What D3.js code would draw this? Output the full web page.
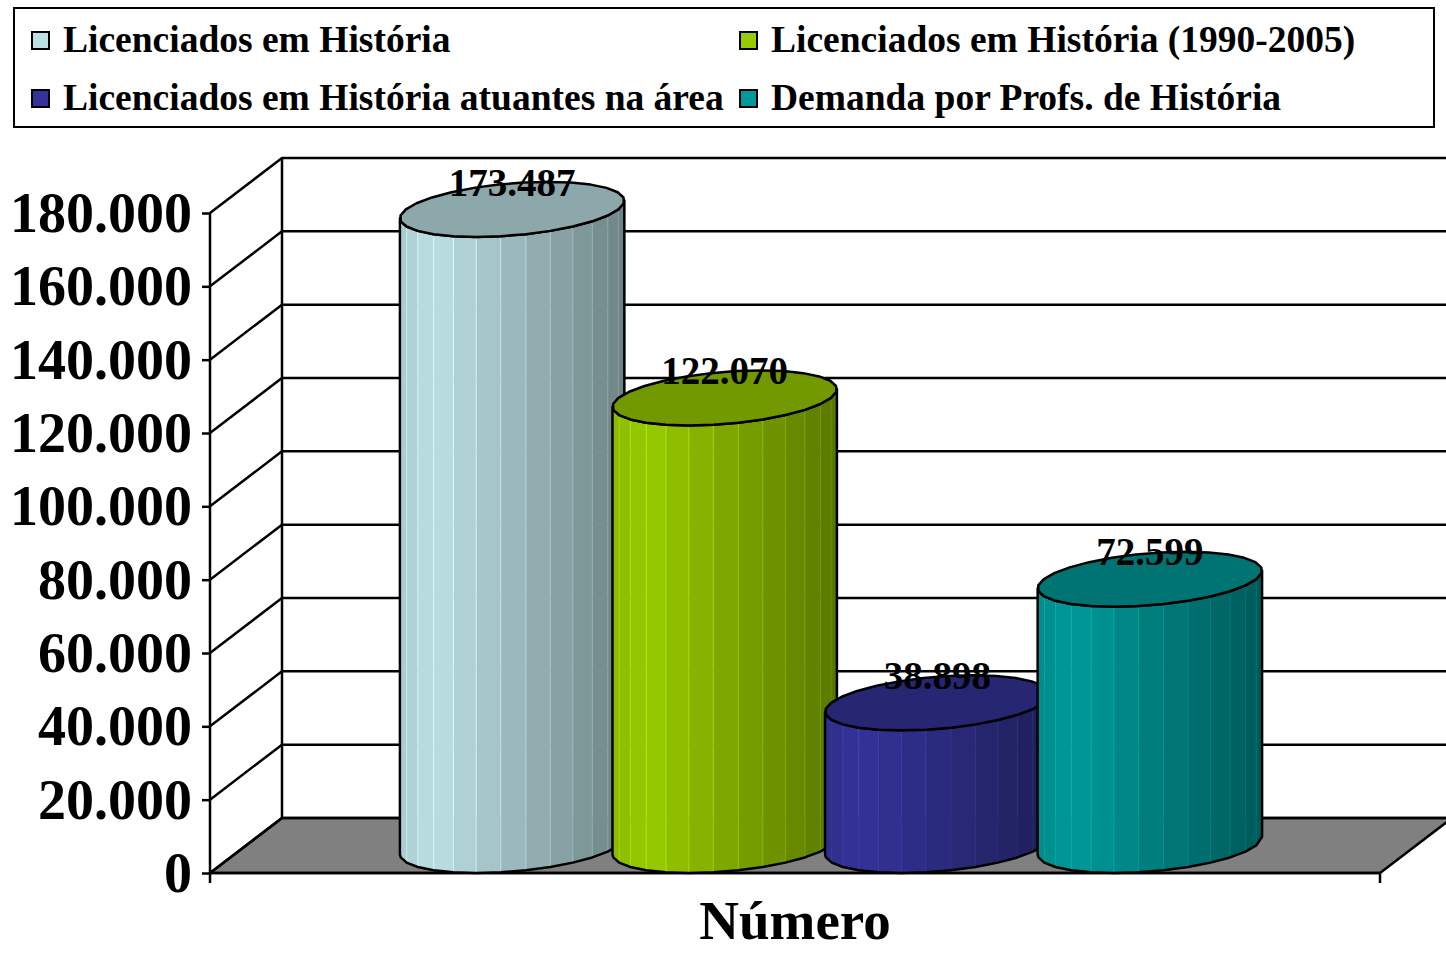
<!DOCTYPE html>
<html>
<head>
<meta charset="utf-8">
<script src="https://cdn.jsdelivr.net/npm/d3@7"></script>
<style>
  body { margin: 0; background: #fff; }
  text { font-family: "Liberation Serif", "Times New Roman", serif; font-weight: bold; }
</style>
</head>
<body>
<div id="chart"></div>
<script>
{
  // data
  const category = "Número";
  const series = [
    "Licenciados em História",
    "Licenciados em História (1990-2005)",
    "Licenciados em História atuantes na área",
    "Demanda por Profs. de História"
  ];
  const values = [173487, 122070, 38898, 72599];
  const labels = ["173.487", "122.070", "38.898", "72.599"];
  const ticks = [0, 20000, 40000, 60000, 80000, 100000, 120000, 140000, 160000, 180000];
  const colors = ["#BCE0E4", "#99CC00", "#333399", "#009999"];

  const width = 1446;
  const height = 953;

  // depth offset of the 3d box
  const DX = 72, DY = -55;

  const svg = d3.select("#chart")
    .append("svg")
    .attr("width", width)
    .attr("height", height);

  const y = d3.scaleLinear().domain([0, 180000]).range([873, 213]);

  const x0 = d3.scaleBand()
    .domain([category])
    .range([210, 1380])
    .paddingInner(0)
    .paddingOuter(0.188);

  const x1 = d3.scaleBand()
    .domain(series)
    .range([0, x0.bandwidth()])
    .padding(0);

  const color = d3.scaleOrdinal().domain(series).range(colors);

  const proj = (x, z, v) => [x + z * DX, y(v) + z * DY];

  // floor
  const x0L = 210, x0R = 1380;
  svg.append("path")
    .attr("d", d3.line()([proj(x0L, 0, 0), proj(x0R, 0, 0), proj(x0R, 1, 0), proj(x0L, 1, 0)]) + "Z")
    .attr("fill", "#808080")
    .attr("stroke", "#000")
    .attr("stroke-width", 2.5);

  // grid lines: side wall diagonals + back wall horizontals
  const grid = svg.append("g").attr("stroke", "#000").attr("stroke-width", 2.5).attr("fill", "none");
  ticks.forEach(t => {
    grid.append("path").attr("d", d3.line()([proj(x0L, 0, t), proj(x0L, 1, t), proj(x0R + 200, 1, t)]));
  });
  grid.append("line")
    .attr("x1", proj(x0L, 1, 0)[0]).attr("y1", proj(x0L, 1, 0)[1])
    .attr("x2", proj(x0L, 1, 180000)[0]).attr("y2", proj(x0L, 1, 180000)[1]);

  // value axis (front)
  const yAxis = svg.append("g")
    .attr("transform", `translate(${x0L},0)`)
    .call(d3.axisLeft(y).tickValues(ticks).tickSize(8).tickFormat(d => d3.format(",")(d).replace(/,/g, ".")));
  yAxis.select(".domain").attr("stroke-width", 2.5).attr("d", `M-0,${y(180000)}V${y(0) + 10}`);
  yAxis.selectAll(".tick line").attr("stroke-width", 2.5);
  yAxis.selectAll(".tick text")
    .attr("x", -18)
    .attr("dy", "0.33em")
    .attr("font-size", 56)
    .attr("font-family", "Liberation Serif")
    .attr("font-weight", "bold")
    .attr("fill", "#000");

  // category axis line
  svg.append("path")
    .attr("d", `M${x0L},${y(0)}H${x0R}V${y(0) + 10}`)
    .attr("fill", "none")
    .attr("stroke", "#000")
    .attr("stroke-width", 2.5);

  // cylinders
  const N = 28;
  const bw = x1.bandwidth();
  const r = bw / 2;
  const darker = (c, k) => { const h = d3.rgb(c); return d3.rgb(h.r * k, h.g * k, h.b * k).formatHex(); };

  series.forEach((s, i) => {
    const v = values[i];
    const cx = x0(category) + x1(s) + r;
    // point on the circle; sin>0 is the front half
    const pt = (th, val) => proj(cx + r * Math.cos(th), 0.5 - 0.5 * Math.sin(th), val);
    const aR = Math.atan2(-(DX / 2), r);
    const aL = aR + Math.PI;
    const angs = [aR];
    for (let k = 0; k < N; k++) {
      let aa = (2 * Math.PI * k) / N;
      while (aa < aR) aa += 2 * Math.PI;
      if (aa > aR && aa < aL) angs.push(aa);
    }
    angs.push(aL);
    angs.sort((a, b) => a - b);

    const base = color(s);
    const left = pt(aL, 0)[0], right = pt(aR, 0)[0];
    const shade = d3.scaleLinear()
      .domain([left, left + (right - left) * 0.15, right])
      .range([darker(base, 0.9), base, darker(base, 0.58)])
      .interpolate(d3.interpolateRgb);

    const g = svg.append("g");
    // side facets
    for (let k = 0; k < angs.length - 1; k++) {
      const a = angs[k], b = angs[k + 1];
      const quad = [pt(a, v), pt(b, v), pt(b, 0), pt(a, 0)];
      const mx = (quad[0][0] + quad[1][0]) / 2;
      const f = shade(mx);
      g.append("path")
        .attr("d", d3.line()(quad) + "Z")
        .attr("fill", f)
        .attr("stroke", d3.rgb(f).brighter(0.5))
        .attr("stroke-width", 0.7);
    }
    // side outline
    const topArc = angs.map(a => pt(a, v));
    const botArc = angs.map(a => pt(a, 0)).reverse();
    g.append("path")
      .attr("d", d3.line()(topArc.concat(botArc)) + "Z")
      .attr("fill", "none")
      .attr("stroke", "#000")
      .attr("stroke-width", 2.5)
      .attr("stroke-linejoin", "round");
    // top
    const topPts = d3.range(N).map(k => pt((2 * Math.PI * k) / N, v));
    g.append("path")
      .attr("d", d3.line()(topPts) + "Z")
      .attr("fill", darker(base, 0.75))
      .attr("stroke", "#000")
      .attr("stroke-width", 2.5)
      .attr("stroke-linejoin", "round");
  });

  // data labels
  svg.append("g")
    .selectAll("text")
    .data(series)
    .enter()
    .append("text")
    .attr("x", (d, i) => proj(x0(category) + x1(d) + r, 0.5, values[i])[0])
    .attr("y", (d, i) => proj(0, 1, values[i])[1])
    .attr("dy", "0.35em")
    .attr("text-anchor", "middle")
    .attr("font-size", 39)
    .text((d, i) => labels[i]);

  // axis title
  svg.append("text")
    .attr("x", (x0L + x0R) / 2)
    .attr("y", 939)
    .attr("text-anchor", "middle")
    .attr("font-size", 55)
    .text(category);

  // legend
  const legend = svg.append("g");
  legend.append("rect")
    .attr("x", 14).attr("y", 8)
    .attr("width", 1420).attr("height", 119)
    .attr("fill", "#fff")
    .attr("stroke", "#000")
    .attr("stroke-width", 2);

  const items = legend.selectAll(".legend")
    .data(series)
    .enter()
    .append("g")
    .attr("class", "legend")
    .attr("transform", (d, i) => `translate(${i % 2 === 0 ? 32 : 740}, ${i < 2 ? 32 : 90})`);

  items.append("rect")
    .attr("width", 17)
    .attr("height", 17)
    .attr("fill", d => color(d))
    .attr("stroke", "#000")
    .attr("stroke-width", 2);

  items.append("text")
    .attr("x", 31)
    .attr("y", 20)
    .attr("font-size", 37.5)
    .text(d => d);
}
</script>
</body>
</html>
